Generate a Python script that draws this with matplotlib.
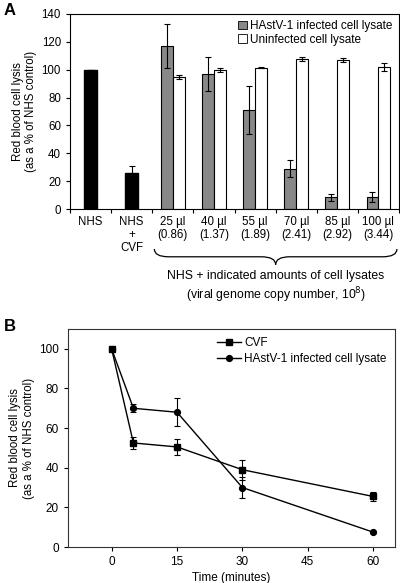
import numpy as np
import matplotlib
matplotlib.use("Agg")
import matplotlib.pyplot as plt
from matplotlib.path import Path
from matplotlib.patches import PathPatch, Patch
from matplotlib.lines import Line2D
import matplotlib.transforms as mtransforms

plt.rcParams["font.family"] = ["Liberation Sans", "DejaVu Sans"]
plt.rcParams["font.size"] = 8.3

# panel A data
controls = ["NHS", "NHS\n+\nCVF"]
control_vals = [100, 26]
control_err = [0, 5]

volumes = ["25 \u00b5l\n(0.86)", "40 \u00b5l\n(1.37)", "55 \u00b5l\n(1.89)",
           "70 \u00b5l\n(2.41)", "85 \u00b5l\n(2.92)", "100 \u00b5l\n(3.44)"]
infected = [117, 97, 71, 29, 8.5, 8.5]
infected_err = [16, 12, 17.5, 6, 2.5, 3.5]
uninfected = [95, 100, 101.5, 107.5, 107, 102]
uninfected_err = [1.5, 1.5, 0.6, 1.5, 1.5, 3]

# panel B data
time_min = [0, 5, 15, 30, 60]
cvf = [100, 52.5, 50.5, 39, 25.5]
cvf_err = [0, 3, 4, 5, 2.5]
hastv = [100, 70, 68, 30, 7.5]
hastv_err = [0, 2, 7, 5.5, 0]

GREY = "#888888"

fig = plt.figure(figsize=(4.0, 5.83), dpi=100)
axA = fig.add_axes([0.175, 0.6415, 0.8225, 0.3345])
axB = fig.add_axes([0.17, 0.0617, 0.8175, 0.374])

# ---- panel A ----
ekw = dict(ecolor="black", elinewidth=0.8, capsize=2.2, capthick=0.8)
xc = np.arange(len(controls))
axA.bar(xc, control_vals, width=0.32, color="black", edgecolor="black",
        yerr=control_err, error_kw=ekw)
xg = np.arange(len(volumes)) + len(controls)
w = 0.29
axA.bar(xg - w / 2, infected, width=w, color=GREY, edgecolor="black", linewidth=0.8,
        yerr=infected_err, error_kw=ekw, label="HAstV-1 infected cell lysate")
axA.bar(xg + w / 2, uninfected, width=w, color="white", edgecolor="black", linewidth=0.8,
        yerr=uninfected_err, error_kw=ekw, label="Uninfected cell lysate")

n = len(controls) + len(volumes)
axA.set_xlim(-0.5, n - 0.5)
axA.set_ylim(0, 140)
axA.set_yticks(range(0, 141, 20))
axA.set_xticks(range(n))
axA.set_xticklabels(controls + volumes, linespacing=1.1)
axA.set_xticks(np.arange(-0.5, n, 1), minor=True)
axA.tick_params(axis="x", which="major", length=0, pad=5)
axA.tick_params(axis="x", which="minor", length=3, width=0.8)
axA.tick_params(axis="y", length=3, width=0.8)
axA.set_ylabel("Red blood cell lysis\n(as a % of NHS control)", labelpad=3)
for s in axA.spines.values():
    s.set_linewidth(0.8)

handles = [Patch(facecolor=GREY, edgecolor="black", linewidth=0.6),
           Patch(facecolor="white", edgecolor="black", linewidth=0.6)]
axA.legend(handles, ["HAstV-1 infected cell lysate", "Uninfected cell lysate"],
           loc="upper right", frameon=False, handlelength=0.7, handleheight=0.7,
           handletextpad=0.3, labelspacing=0.1, borderaxespad=0.15, fontsize=8.5)

# brace under the lysate groups
trans = mtransforms.blended_transform_factory(axA.transData, axA.transAxes)
x0, x1 = xg[0] - 0.45, xg[-1] + 0.45
xm = (x0 + x1) / 2
yt, ym, yb = -0.205, -0.245, -0.285
d = 0.35
verts = [(x0, yt), (x0, ym), (x0 + d, ym),
         (xm - d, ym), (xm, ym), (xm, yb),
         (xm, ym), (xm + d, ym),
         (x1 - d, ym), (x1, ym), (x1, yt)]
codes = [Path.MOVETO, Path.CURVE3, Path.CURVE3,
         Path.LINETO, Path.CURVE3, Path.CURVE3,
         Path.CURVE3, Path.CURVE3,
         Path.LINETO, Path.CURVE3, Path.CURVE3]
axA.add_patch(PathPatch(Path(verts, codes), transform=trans, fill=False,
                        lw=0.9, clip_on=False))
axA.text(xm, -0.315, "NHS + indicated amounts of cell lysates", transform=trans,
         ha="center", va="top", fontsize=8.8)
axA.text(xm, -0.39, "(viral genome copy number, 10$^{8}$)", transform=trans,
         ha="center", va="top", fontsize=8.8)

# ---- panel B ----
lkw = dict(color="black", lw=1.0, elinewidth=0.8, capsize=2.2, capthick=0.8)
axB.errorbar(time_min, hastv, yerr=hastv_err, marker="o", markersize=4.2, **lkw)
axB.errorbar(time_min, cvf, yerr=cvf_err, marker="s", markersize=4.2, **lkw)
axB.set_xlim(-10, 65)
axB.set_ylim(0, 110)
axB.set_xticks([0, 15, 30, 45, 60])
axB.set_yticks(range(0, 101, 20))
axB.tick_params(length=3, width=0.8, labelsize=8.5)
axB.set_xlabel("Time (minutes)", labelpad=3, fontsize=8.5)
axB.set_ylabel("Red blood cell lysis\n(as a % of NHS control)", labelpad=3)
for s in axB.spines.values():
    s.set_linewidth(0.8)
    s.set_color("#333333")

lh = [Line2D([], [], color="black", marker="s", markersize=4.2, lw=1.0),
      Line2D([], [], color="black", marker="o", markersize=4.2, lw=1.0)]
axB.legend(lh, ["CVF", "HAstV-1 infected cell lysate"], loc="upper right",
           frameon=False, handlelength=2.0, handletextpad=0.3, labelspacing=0.3,
           borderaxespad=0.3, fontsize=8.5)

fig.text(0.01, 0.995, "A", fontsize=12, fontweight="bold", va="top")
fig.text(0.01, 0.452, "B", fontsize=12, fontweight="bold", va="top")

fig.savefig("out.png", dpi=100)
